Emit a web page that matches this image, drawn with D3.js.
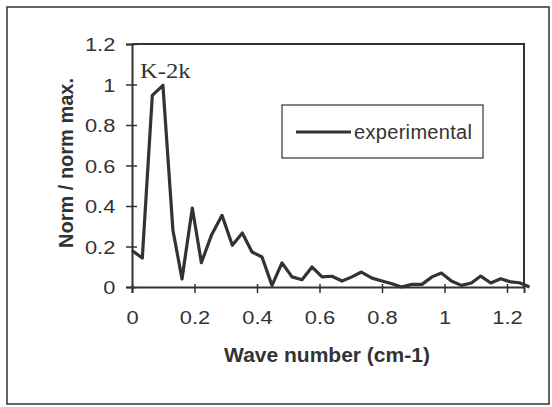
<!DOCTYPE html>
<html>
<head>
<meta charset="utf-8">
<script src="https://cdn.jsdelivr.net/npm/d3@7"></script>
<style>
  body { margin: 0; background: #fff; }
  svg { display: block; }
</style>
</head>
<body>
<svg id="chart" width="552" height="407"></svg>
<script>
// wave number (cm-1)
const waveNumber = [0, 0.033, 0.065, 0.099, 0.131, 0.16, 0.193, 0.222, 0.254, 0.288,
  0.321, 0.353, 0.384, 0.416, 0.448, 0.48, 0.512, 0.544, 0.576, 0.608,
  0.64, 0.672, 0.704, 0.734, 0.768, 0.8, 0.832, 0.862, 0.896, 0.928,
  0.96, 0.99, 1.022, 1.054, 1.086, 1.116, 1.148, 1.18, 1.212, 1.24, 1.272];
// norm / norm max
const experimental = [0.18, 0.143, 0.946, 0.996, 0.28, 0.04, 0.39, 0.12, 0.255, 0.354,
  0.206, 0.267, 0.173, 0.148, 0.008, 0.119, 0.05, 0.036, 0.099, 0.05,
  0.053, 0.03, 0.05, 0.074, 0.044, 0.03, 0.016, 0.0, 0.013, 0.013,
  0.05, 0.069, 0.03, 0.008, 0.02, 0.054, 0.02, 0.041, 0.025, 0.021, 0.0];

const xTicks = [0, 0.2, 0.4, 0.6, 0.8, 1, 1.2];
const yTicks = [0, 0.2, 0.4, 0.6, 0.8, 1, 1.2];
const seriesName = 'experimental';
const sampleLabel = 'K-2k';

const ink = '#333';
const sans = 'Liberation Sans, Arial, sans-serif';

const svg = d3.select('#chart');

// outer frame
svg.append('rect')
  .attr('x', 7).attr('y', 7)
  .attr('width', 542).attr('height', 397)
  .attr('fill', 'none').attr('stroke', ink).attr('stroke-width', 1.5);

const x = d3.scaleLinear().domain([0, 1.2544]).range([132, 524]);
const y = d3.scaleLinear().domain([0, 1.2]).range([287, 44]);

// plot border (top and right)
svg.append('path')
  .attr('d', `M${x(0)},${y(1.2)}H${x(1.2544)}V${y(0)}`)
  .attr('fill', 'none').attr('stroke', ink).attr('stroke-width', 2);

// x axis
const gx = svg.append('g')
  .attr('transform', `translate(0,${y(0)})`)
  .call(d3.axisBottom(x).tickValues(xTicks).tickFormat(d => String(d)).tickSize(6).tickPadding(0));
gx.select('.domain').attr('stroke', ink).attr('stroke-width', 2);
gx.selectAll('.tick line').attr('stroke', ink).attr('stroke-width', 1.5).attr('y1', -3);
gx.selectAll('.tick text')
  .attr('y', 37).attr('dy', null)
  .attr('fill', ink)
  .style('font', `19px ${sans}`)
  .attr('transform', 'scale(1.15,1)');

// y axis
const gy = svg.append('g')
  .attr('transform', `translate(${x(0)},0)`)
  .call(d3.axisLeft(y).tickValues(yTicks).tickFormat(d => String(d)).tickSize(6).tickPadding(0));
gy.select('.domain').attr('stroke', ink).attr('stroke-width', 2);
gy.selectAll('.tick line').attr('stroke', ink).attr('stroke-width', 1.5).attr('x1', 5);
gy.selectAll('.tick text')
  .attr('x', -14.5).attr('dy', '0.36em')
  .attr('fill', ink)
  .style('font', `19px ${sans}`)
  .attr('transform', 'scale(1.15,1)');

// axis titles
svg.append('text')
  .attr('x', 327).attr('y', 362)
  .attr('text-anchor', 'middle')
  .attr('fill', ink)
  .style('font', `bold 21px ${sans}`)
  .text('Wave number (cm-1)');

svg.append('text')
  .attr('transform', 'translate(73,163) rotate(-90)')
  .attr('text-anchor', 'middle')
  .attr('fill', ink)
  .style('font', `bold 20px ${sans}`)
  .text('Norm / norm max.');

// data line
const line = d3.line()
  .x((d, i) => x(waveNumber[i]))
  .y(d => y(d));

svg.append('path')
  .datum(experimental)
  .attr('d', line)
  .attr('fill', 'none')
  .attr('stroke', ink)
  .attr('stroke-width', 3.2)
  .attr('stroke-linejoin', 'round');

// sample label
svg.append('text')
  .attr('transform', 'translate(140,78) scale(1.12,1)')
  .attr('fill', ink)
  .style('font', '22px Liberation Serif, Times New Roman, serif')
  .text(sampleLabel);

// legend
const lg = svg.append('g');
lg.append('rect')
  .attr('x', 282).attr('y', 105)
  .attr('width', 201).attr('height', 53)
  .attr('fill', '#fff').attr('stroke', ink).attr('stroke-width', 1.2);
lg.append('line')
  .attr('x1', 296).attr('x2', 351)
  .attr('y1', 132).attr('y2', 132)
  .attr('stroke', ink).attr('stroke-width', 3);
lg.append('text')
  .attr('x', 354).attr('y', 139)
  .attr('fill', ink)
  .style('font', `20px ${sans}`)
  .attr('textLength', 118)
  .text(seriesName);
</script>
</body>
</html>
